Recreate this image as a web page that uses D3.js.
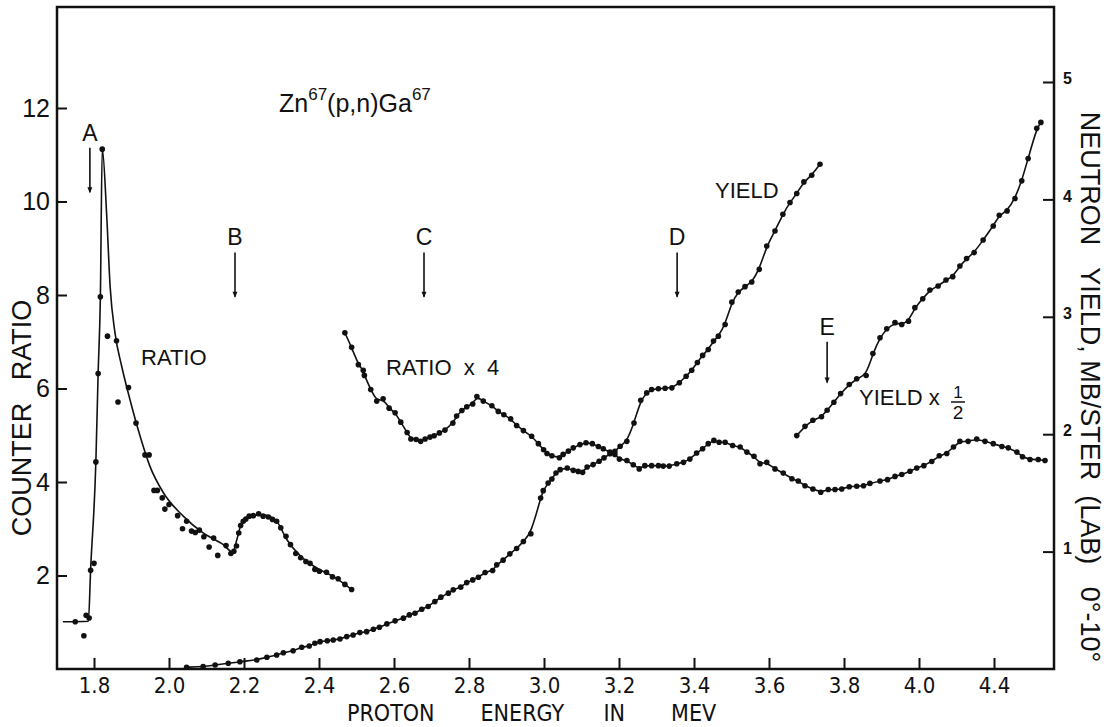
<!DOCTYPE html>
<html>
<head>
<meta charset="utf-8">
<script src="https://cdn.jsdelivr.net/npm/d3@7"></script>
<style>
    body { margin: 0; background: #fff; }
    text { font-family: "Liberation Sans", Arial, sans-serif; fill: #111; }
    .narrow { font-family: "Liberation Sans Narrow", "DejaVu Sans Condensed", sans-serif; }
</style>
</head>
<body>
<svg id="chart" width="1111" height="727"></svg>
<script>
// values: [proton energy MeV, value]
// counter ratio (left axis)
var ratioPts = [[1.750,1.01],[1.773,0.71],[1.779,1.15],[1.787,1.09],[1.791,2.11],[1.800,2.26],[1.805,4.43],
    [1.811,6.32],[1.817,7.96],[1.822,11.12],[1.836,7.12],[1.860,7.02],[1.864,5.71],[1.892,6.02],[1.912,5.26],
    [1.936,4.58],[1.947,4.58],[1.960,3.82],[1.969,3.82],[1.982,3.66],[1.989,3.42],[2.000,3.52],[2.023,3.28],
    [2.036,3.00],[2.047,3.16],[2.060,2.95],[2.070,2.92],[2.081,2.97],[2.093,2.83],[2.107,2.61],[2.119,2.80],
    [2.130,2.43],[2.152,2.64],[2.165,2.47],[2.173,2.52],[2.180,2.63],[2.186,2.91],[2.191,3.07],[2.198,3.16],
    [2.205,3.21],[2.214,3.27],[2.225,3.28],[2.239,3.32],[2.251,3.27],[2.265,3.25],[2.276,3.20],[2.287,3.16],
    [2.298,3.02],[2.312,2.84],[2.324,2.66],[2.338,2.47],[2.351,2.38],[2.365,2.30],[2.376,2.26],[2.389,2.13],
    [2.401,2.09],[2.420,2.07],[2.436,1.97],[2.451,1.93],[2.469,1.81],[2.487,1.70]];

// drawn curve through the ratio points
var ratioFit = [[1.717,1.01],[1.785,1.02],[1.791,2.13],[1.805,4.44],[1.811,6.32],[1.817,7.96],[1.822,11.13],
    [1.834,9.68],[1.843,8.18],[1.856,7.19],[1.874,6.47],[1.896,5.76],[1.923,4.98],[1.949,4.34],[1.985,3.77],
    [2.038,3.27],[2.091,2.91],[2.145,2.66],[2.170,2.50],[2.181,2.77],[2.194,3.13],[2.216,3.27],[2.251,3.30],
    [2.287,3.16],[2.314,2.77],[2.349,2.43],[2.394,2.16],[2.438,1.98],[2.487,1.70]];

// ratio x 4 (left axis units as plotted)
var ratio4Pts = [[2.469,7.19],[2.487,6.88],[2.505,6.51],[2.518,6.39],[2.521,6.28],[2.538,5.98],[2.554,5.73],
    [2.571,5.78],[2.587,5.58],[2.603,5.48],[2.618,5.28],[2.635,5.06],[2.645,4.92],[2.659,4.91],[2.671,4.87],
    [2.683,4.92],[2.696,4.96],[2.707,4.99],[2.721,5.05],[2.736,5.11],[2.757,5.26],[2.767,5.41],[2.781,5.53],
    [2.794,5.61],[2.810,5.67],[2.821,5.83],[2.838,5.73],[2.861,5.63],[2.878,5.51],[2.893,5.44],[2.911,5.35],
    [2.927,5.21],[2.945,5.10],[2.967,4.98],[2.985,4.82],[2.999,4.69],[3.008,4.61],[3.021,4.56],[3.041,4.52],
    [3.051,4.59],[3.065,4.66],[3.078,4.73],[3.096,4.80],[3.112,4.84],[3.129,4.82],[3.145,4.76],[3.158,4.71],
    [3.176,4.64],[3.189,4.59],[3.201,4.49],[3.221,4.46],[3.238,4.37],[3.254,4.28],[3.269,4.35],[3.287,4.35],
    [3.305,4.35],[3.318,4.34],[3.334,4.34],[3.354,4.39],[3.372,4.42],[3.389,4.49],[3.407,4.62],[3.423,4.71],
    [3.438,4.82],[3.453,4.89],[3.467,4.85],[3.483,4.85],[3.503,4.78],[3.523,4.75],[3.541,4.64],[3.560,4.55],
    [3.576,4.39],[3.594,4.42],[3.616,4.28],[3.638,4.19],[3.661,4.07],[3.678,4.02],[3.696,3.92],[3.717,3.85],
    [3.738,3.78],[3.758,3.84],[3.776,3.84],[3.794,3.85],[3.814,3.90],[3.834,3.91],[3.852,3.92],[3.869,3.97],
    [3.896,4.02],[3.916,4.05],[3.936,4.12],[3.954,4.16],[3.976,4.23],[3.994,4.30],[4.013,4.35],[4.034,4.44],
    [4.054,4.56],[4.074,4.61],[4.092,4.75],[4.109,4.87],[4.131,4.87],[4.154,4.92],[4.176,4.87],[4.198,4.82],
    [4.221,4.76],[4.238,4.73],[4.261,4.64],[4.276,4.54],[4.296,4.48],[4.318,4.48],[4.336,4.46]];

// neutron yield, mb/ster (right axis)
var yieldPts = [[2.047,0.015],[2.091,0.020],[2.123,0.034],[2.158,0.049],[2.189,0.062],[2.234,0.077],[2.261,0.100],
    [2.287,0.119],[2.305,0.139],[2.331,0.156],[2.354,0.185],[2.374,0.196],[2.389,0.219],[2.403,0.233],[2.422,0.241],
    [2.438,0.247],[2.456,0.256],[2.474,0.276],[2.491,0.290],[2.509,0.310],[2.527,0.318],[2.545,0.339],[2.561,0.356],
    [2.581,0.384],[2.603,0.410],[2.625,0.433],[2.641,0.461],[2.656,0.475],[2.674,0.509],[2.691,0.532],[2.709,0.574],
    [2.725,0.612],[2.745,0.646],[2.758,0.674],[2.778,0.697],[2.794,0.736],[2.810,0.759],[2.825,0.782],[2.843,0.822],
    [2.863,0.839],[2.874,0.887],[2.891,0.927],[2.909,0.981],[2.927,1.026],[2.945,1.086],[2.965,1.152],[2.991,1.456],
    [2.998,1.519],[3.011,1.584],[3.021,1.619],[3.032,1.670],[3.043,1.698],[3.062,1.712],[3.078,1.692],[3.091,1.683],
    [3.103,1.675],[3.115,1.721],[3.131,1.741],[3.147,1.769],[3.160,1.798],[3.176,1.834],[3.189,1.854],[3.203,1.897],
    [3.221,1.939],[3.240,2.096],[3.258,2.289],[3.274,2.352],[3.287,2.381],[3.305,2.387],[3.323,2.392],[3.341,2.395],
    [3.361,2.438],[3.379,2.494],[3.394,2.545],[3.409,2.611],[3.423,2.671],[3.438,2.722],[3.452,2.793],[3.465,2.835],
    [3.483,2.935],[3.501,3.125],[3.518,3.211],[3.536,3.257],[3.554,3.296],[3.574,3.404],[3.594,3.603],[3.616,3.731],
    [3.637,3.874],[3.656,3.974],[3.674,4.050],[3.693,4.149],[3.714,4.206],[3.736,4.300]];

// yield x 1/2 (right axis units as plotted)
var yieldHalfPts = [[3.674,1.988],[3.696,2.067],[3.717,2.119],[3.740,2.148],[3.755,2.204],[3.773,2.272],[3.791,2.346],
    [3.814,2.423],[3.834,2.472],[3.859,2.500],[3.877,2.688],[3.896,2.822],[3.914,2.898],[3.936,2.950],[3.954,2.935],
    [3.972,2.963],[3.989,3.078],[4.010,3.154],[4.029,3.228],[4.051,3.262],[4.072,3.313],[4.090,3.342],[4.109,3.433],
    [4.127,3.496],[4.147,3.547],[4.171,3.654],[4.198,3.774],[4.214,3.865],[4.235,3.902],[4.256,4.008],[4.274,4.158],
    [4.291,4.349],[4.314,4.605],[4.325,4.656]];

var xTicks = [1.8,2.0,2.2,2.4,2.6,2.8,3.0,3.2,3.4,3.6,3.8,4.0,4.2];
var xTickLabels = ["1.8","2.0","2.2","2.4","2.6","2.8","3.0","3.2","3.4","3.6","3.8","4.0","4.4"];
var leftTicks = [2,4,6,8,10,12];
var rightTicks = [1,2,3,4,5];

// marked levels A-E: energy and arrow top/bottom in counter ratio units
var markLabels = ["A","B","C","D","E"];
var markEnergies = [1.789,2.176,2.680,3.355,3.755];
var markTops = [11.15,8.91,8.91,8.91,7.0];
var markBottoms = [10.2,7.96,7.96,7.96,6.13];

var svg = d3.select("#chart");
var frameL = 57, frameR = 1054, frameT = 7, frameB = 669;

var x = d3.scaleLinear().domain([1.8, 4.2]).range([94, 994]);
var yL = d3.scaleLinear().domain([0, 12]).range([669, 108]);
var yR = d3.scaleLinear().domain([0, 5]).range([669, 82]);

// frame
svg.append("rect")
    .attr("x", frameL).attr("y", frameT)
    .attr("width", frameR - frameL).attr("height", frameB - frameT)
    .attr("fill", "none").attr("stroke", "#111").attr("stroke-width", 2.5);

var gx = svg.append("g").attr("transform", "translate(0," + frameB + ")")
    .call(d3.axisBottom(x).tickValues(xTicks).tickSize(-11).tickPadding(8)
        .tickFormat(function (d, i) { return xTickLabels[i]; }));
gx.selectAll("text").attr("class", "narrow").style("font-size", "22px");

var gl = svg.append("g").attr("transform", "translate(" + frameL + ",0)")
    .call(d3.axisLeft(yL).tickValues(leftTicks).tickSize(-10).tickPadding(7));
gl.selectAll("text").style("font-size", "25px");

var gr = svg.append("g").attr("transform", "translate(" + frameR + ",0)")
    .call(d3.axisRight(yR).tickValues(rightTicks).tickSize(-11).tickPadding(9)
        .tickFormat(d3.format("d")));
gr.selectAll("text").style("font-size", "16px").style("font-weight", "bold").attr("dy", "0.1em");

svg.selectAll(".domain").remove();
svg.selectAll(".tick line").attr("stroke", "#111").attr("stroke-width", 2);

// axis titles
svg.append("text").attr("class", "narrow")
    .attr("x", 347).attr("y", 721)
    .style("font-size", "23px").style("white-space", "pre")
    .text("PROTON       ENERGY      IN       MEV");

svg.append("text")
    .attr("transform", "translate(31,418) rotate(-90)")
    .attr("text-anchor", "middle")
    .style("font-size", "27px").style("white-space", "pre")
    .text("COUNTER   RATIO");

svg.append("text")
    .attr("transform", "translate(1081,387) rotate(90)")
    .attr("text-anchor", "middle")
    .style("font-size", "27px").style("white-space", "pre")
    .text("NEUTRON   YIELD, MB/STER  (LAB)   0°-10°");

// curves
var lineL = d3.line().x(function (d) { return x(d[0]); }).y(function (d) { return yL(d[1]); });
var lineR = d3.line().x(function (d) { return x(d[0]); }).y(function (d) { return yR(d[1]); });

function drawCurve(data, gen, curve) {
    svg.append("path").datum(data)
        .attr("d", gen.curve(curve))
        .attr("fill", "none").attr("stroke", "#111").attr("stroke-width", 1.6);
}
function drawDots(data, yScale) {
    svg.append("g").selectAll("circle").data(data).enter()
        .append("circle")
        .attr("cx", function (d) { return x(d[0]); })
        .attr("cy", function (d) { return yScale(d[1]); })
        .attr("r", 2.8).attr("fill", "#111");
}

drawCurve(ratioFit, lineL, d3.curveMonotoneX);
drawCurve(ratio4Pts, lineL, d3.curveBasis);
drawCurve(yieldPts, lineR, d3.curveBasis);
drawCurve(yieldHalfPts, lineR, d3.curveBasis);
drawDots(ratioPts, yL);
drawDots(ratio4Pts, yL);
drawDots(yieldPts, yR);
drawDots(yieldHalfPts, yR);

// arrows A-E
markLabels.forEach(function (m, i) {
    var cx = x(markEnergies[i]),
        y0 = yL(markTops[i]),
        y1 = yL(markBottoms[i]);
    svg.append("line")
        .attr("x1", cx).attr("x2", cx)
        .attr("y1", y0).attr("y2", y1)
        .attr("stroke", "#111").attr("stroke-width", 1.6);
    svg.append("path")
        .attr("d", "M" + (cx - 2.5) + "," + (y1 - 5) + " L" + cx + "," + (y1 + 1) + " L" + (cx + 2.5) + "," + (y1 - 5) + " Z")
        .attr("fill", "#111");
    svg.append("text")
        .attr("x", cx).attr("y", y0 - 7)
        .attr("text-anchor", "middle")
        .style("font-size", "23px")
        .text(m);
});

// curve labels
function label(tx, ty, s) {
    return svg.append("text").attr("x", tx).attr("y", ty)
        .style("font-size", "22px").style("white-space", "pre").text(s);
}
label(141, 365, "RATIO");
label(386, 375, "RATIO  x  4");
label(715, 198, "YIELD");
label(859, 405, "YIELD x");

var frac = svg.append("g").attr("transform", "translate(958,0)");
frac.append("text").attr("x", 0).attr("y", 398).attr("text-anchor", "middle").style("font-size", "17px").text("1");
frac.append("line").attr("x1", -7).attr("x2", 7).attr("y1", 402).attr("y2", 402).attr("stroke", "#111").attr("stroke-width", 1.5);
frac.append("text").attr("x", 0).attr("y", 419).attr("text-anchor", "middle").style("font-size", "19px").text("2");

// reaction title
var title = svg.append("text").attr("x", 279).attr("y", 112).style("font-size", "25px");
title.append("tspan").text("Zn");
title.append("tspan").attr("dy", -12).style("font-size", "17px").text("67");
title.append("tspan").attr("dy", 12).text("(p,n)Ga");
title.append("tspan").attr("dy", -12).style("font-size", "17px").text("67");
</script>
</body>
</html>
